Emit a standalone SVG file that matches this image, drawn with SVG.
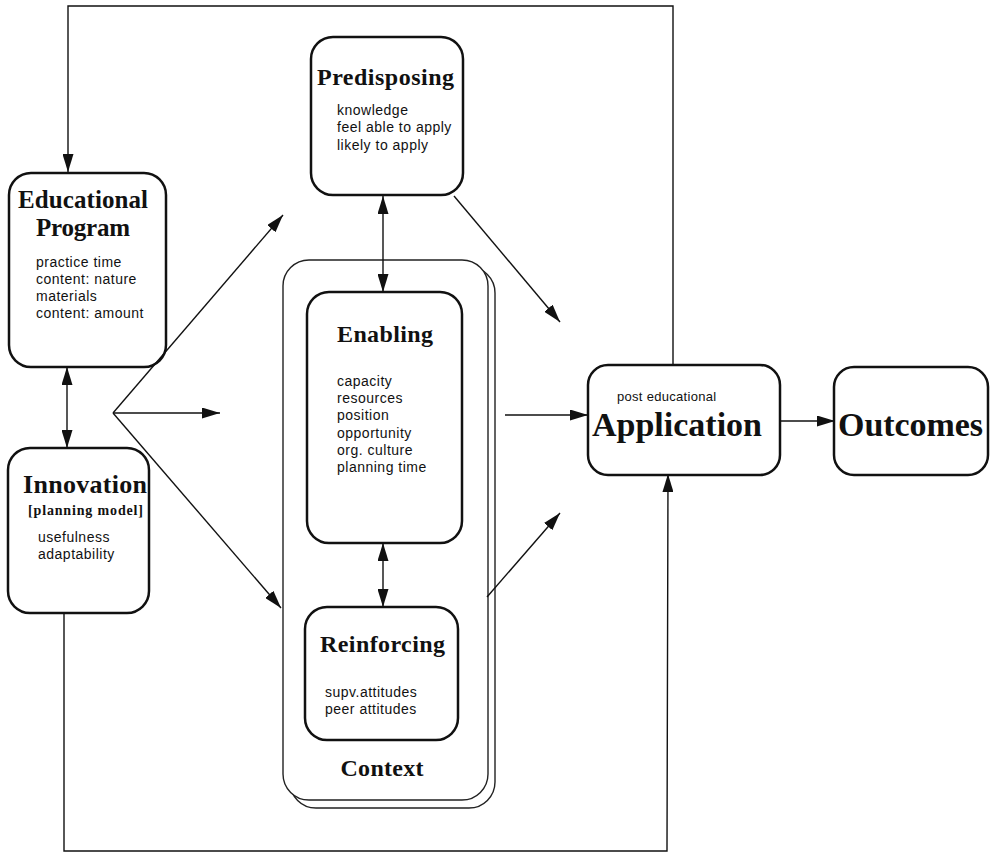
<svg xmlns="http://www.w3.org/2000/svg" width="998" height="853" viewBox="0 0 998 853">
<defs>
<style>
.box{fill:#fff;stroke:#111;stroke-width:2.5}
.ctx{fill:#fff;stroke:#222;stroke-width:1.4}
.ln{fill:none;stroke:#111;stroke-width:1.4}
.t{font-family:"Liberation Serif","Times New Roman",serif;font-weight:bold;fill:#111}
.s{font-family:"Liberation Sans",Arial,sans-serif;font-size:14px;letter-spacing:0.5px;fill:#111}
</style>
<marker id="ah" viewBox="0 0 18 11" refX="18" refY="5.5" markerWidth="18" markerHeight="11" markerUnits="userSpaceOnUse" orient="auto-start-reverse">
<path d="M0,0 L18,5.5 L0,11 z" fill="#111"/>
</marker>
</defs>
<rect width="998" height="853" fill="#fff"/>

<g id="educational-program">
<rect class="box" x="9" y="173" width="157" height="194" rx="22"/>
<text class="t" x="83" y="208" font-size="25" text-anchor="middle" textLength="130" lengthAdjust="spacing">Educational</text>
<text class="t" x="83" y="236" font-size="25" text-anchor="middle" textLength="94" lengthAdjust="spacing">Program</text>
<text class="s" x="36" y="267">practice time</text>
<text class="s" x="36" y="284">content: nature</text>
<text class="s" x="36" y="301">materials</text>
<text class="s" x="36" y="318">content: amount</text>
</g>

<g id="innovation">
<rect class="box" x="8" y="448" width="141" height="165" rx="22"/>
<text class="t" x="23" y="493" font-size="26" textLength="124" lengthAdjust="spacing">Innovation</text>
<text class="t" x="28" y="515" font-size="14" textLength="115" lengthAdjust="spacing">[planning model]</text>
<text class="s" x="38" y="542">usefulness</text>
<text class="s" x="38" y="559">adaptability</text>
</g>

<g id="predisposing">
<rect class="box" x="311" y="37" width="152" height="158" rx="22"/>
<text class="t" x="317" y="85" font-size="24" textLength="137" lengthAdjust="spacing">Predisposing</text>
<text class="s" x="337" y="115">knowledge</text>
<text class="s" x="337" y="132">feel able to apply</text>
<text class="s" x="337" y="150">likely to apply</text>
</g>

<g id="context">
<rect class="ctx" x="290" y="267" width="205" height="541" rx="26"/>
<rect class="ctx" x="283" y="260" width="205" height="540" rx="26"/>
<text class="t" x="382" y="776" font-size="24" text-anchor="middle" textLength="83" lengthAdjust="spacing">Context</text>
</g>

<g id="enabling">
<rect class="box" x="307" y="292" width="155" height="251" rx="22"/>
<text class="t" x="337" y="342" font-size="24" textLength="96" lengthAdjust="spacing">Enabling</text>
<text class="s" x="337" y="386">capacity</text>
<text class="s" x="337" y="403">resources</text>
<text class="s" x="337" y="420">position</text>
<text class="s" x="337" y="438">opportunity</text>
<text class="s" x="337" y="455">org. culture</text>
<text class="s" x="337" y="472">planning time</text>
</g>

<g id="reinforcing">
<rect class="box" x="305" y="607" width="153" height="133" rx="22"/>
<text class="t" x="320" y="652" font-size="24" textLength="125" lengthAdjust="spacing">Reinforcing</text>
<text class="s" x="325" y="697">supv.attitudes</text>
<text class="s" x="325" y="714">peer attitudes</text>
</g>

<g id="application">
<rect class="box" x="588" y="365" width="192" height="110" rx="20"/>
<text class="s" x="617" y="401" style="font-size:13px;letter-spacing:0.3px">post educational</text>
<text class="t" x="592" y="436" font-size="34" textLength="170" lengthAdjust="spacing">Application</text>
</g>

<g id="outcomes">
<rect class="box" x="834" y="367" width="154" height="108" rx="20"/>
<text class="t" x="838" y="436" font-size="34" textLength="145" lengthAdjust="spacing">Outcomes</text>
</g>

<g id="connectors">
<polyline class="ln" points="673,365 673,6 68,6 68,172" marker-end="url(#ah)"/>
<polyline class="ln" points="64,613 64,851 667,851 668,474" marker-end="url(#ah)"/>
<line class="ln" x1="67" y1="367" x2="67" y2="448" marker-start="url(#ah)" marker-end="url(#ah)"/>
<line class="ln" x1="113" y1="413" x2="283" y2="215" marker-end="url(#ah)"/>
<line class="ln" x1="113" y1="413" x2="220" y2="413" marker-end="url(#ah)"/>
<line class="ln" x1="113" y1="413" x2="281" y2="608" marker-end="url(#ah)"/>
<line class="ln" x1="383" y1="196" x2="383" y2="292" marker-start="url(#ah)" marker-end="url(#ah)"/>
<line class="ln" x1="383" y1="543" x2="383" y2="607" marker-start="url(#ah)" marker-end="url(#ah)"/>
<line class="ln" x1="454" y1="196" x2="560" y2="322" marker-end="url(#ah)"/>
<line class="ln" x1="505" y1="415" x2="588" y2="415" marker-end="url(#ah)"/>
<line class="ln" x1="487" y1="597" x2="560" y2="513" marker-end="url(#ah)"/>
<line class="ln" x1="780" y1="421" x2="835" y2="421" marker-end="url(#ah)"/>
</g>
</svg>
